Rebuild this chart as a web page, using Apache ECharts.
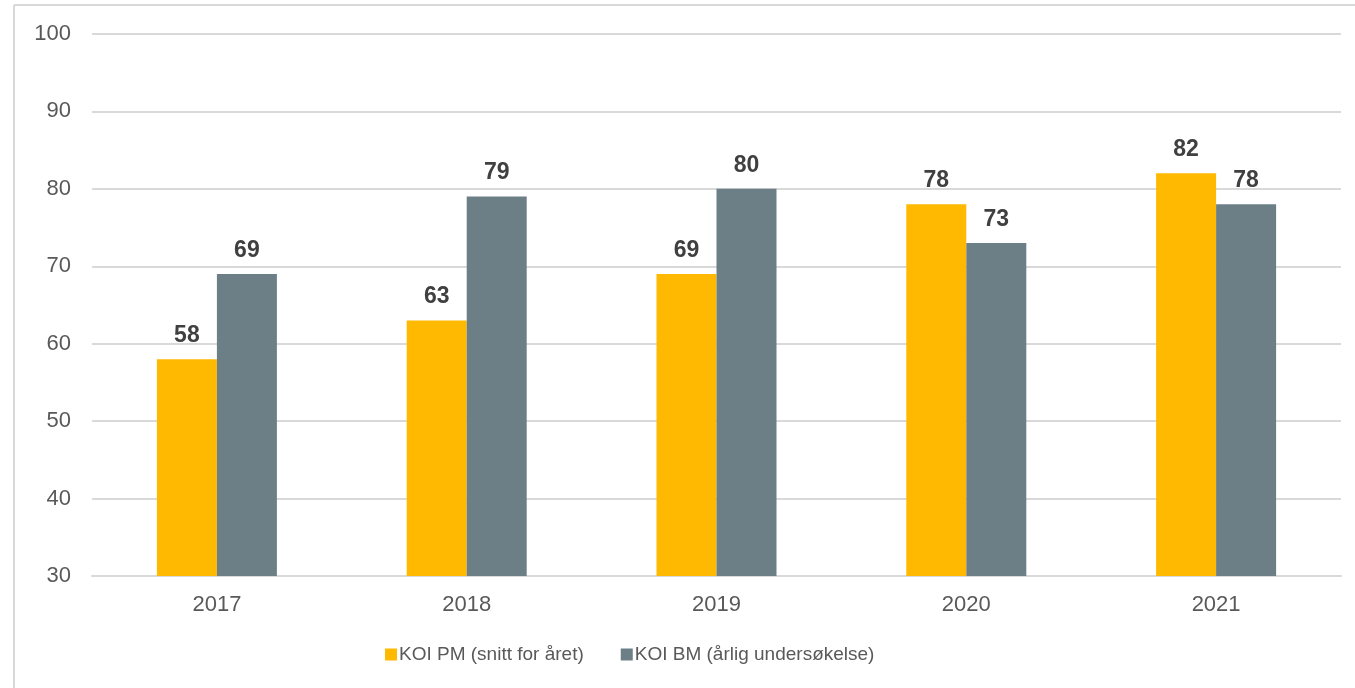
<!DOCTYPE html>
<html>
<head>
<meta charset="utf-8">
<script src="https://cdn.jsdelivr.net/npm/echarts@6/dist/echarts.min.js"></script>
<style>
  html, body { margin: 0; padding: 0; background: #fff; }
  #chart { width: 1355px; height: 688px; }
</style>
</head>
<body>
<div id="chart"></div>
<script>
// KOI scores per year
const years = ['2017', '2018', '2019', '2020', '2021'];
const koiPM = [58, 63, 69, 78, 82];
const koiBM = [69, 79, 80, 73, 78];
const seriesNames = ['KOI PM (snitt for året)', 'KOI BM (årlig undersøkelse)'];
const yTicks = { min: 30, max: 100, interval: 10 };

const FONT = '"Liberation Sans", Arial, sans-serif';
const chart = echarts.init(document.getElementById('chart'), null, { renderer: 'canvas' });

const valueLabel = {
  show: true,
  position: 'top',
  distance: 12,
  fontFamily: FONT,
  fontSize: 23,
  fontWeight: 'bold',
  color: '#404040'
};

chart.setOption({
  animation: false,
  backgroundColor: '#fff',
  graphic: [
    // frame around the chart area
    { type: 'line', shape: { x1: 14, y1: 5, x2: 1355, y2: 5 }, style: { stroke: '#d9d9d9', lineWidth: 2 } },
    { type: 'line', shape: { x1: 14, y1: 5, x2: 14, y2: 688 }, style: { stroke: '#d9d9d9', lineWidth: 2 } }
  ],
  grid: { left: 92, right: 14, top: 34, bottom: 112, containLabel: false },
  legend: {
    top: 645,
    left: 385,
    padding: 0,
    itemWidth: 12,
    itemHeight: 12,
    itemGap: 37,
    icon: 'rect',
    textStyle: { fontFamily: FONT, fontSize: 19, color: '#595959', padding: [0, 0, 0, -3] },
    data: seriesNames
  },
  xAxis: {
    type: 'category',
    data: years,
    axisLine: { show: true, lineStyle: { color: '#d9d9d9', width: 2 } },
    axisTick: { show: false },
    axisLabel: { fontFamily: FONT, fontSize: 22, color: '#595959', margin: 18 }
  },
  yAxis: {
    type: 'value',
    min: yTicks.min,
    max: yTicks.max,
    interval: yTicks.interval,
    axisLine: { show: false },
    axisTick: { show: false },
    splitLine: { lineStyle: { color: '#d9d9d9', width: 2 } },
    axisLabel: { fontFamily: FONT, fontSize: 22, color: '#595959', margin: 21 }
  },
  series: [
    {
      name: seriesNames[0],
      type: 'bar',
      data: koiPM,
      barWidth: 60,
      barGap: '0%',
      itemStyle: { color: '#FFB900' },
      label: valueLabel
    },
    {
      name: seriesNames[1],
      type: 'bar',
      data: koiBM,
      barWidth: 60,
      barGap: '0%',
      itemStyle: { color: '#6C7F87' },
      label: valueLabel
    }
  ]
});
</script>
</body>
</html>
